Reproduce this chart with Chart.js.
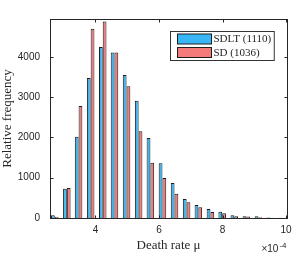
<!DOCTYPE html>
<html>
<head>
<meta charset="utf-8">
<script src="https://cdn.jsdelivr.net/npm/chart.js@4.4.1/dist/chart.umd.min.js"></script>
<style>
  html, body { margin: 0; padding: 0; background: #fff; }
  canvas { display: block; }
</style>
</head>
<body>
<canvas id="chart" width="299" height="257"></canvas>
<script>
// Histogram bins (death rate, x 1e-4) and counts
const binCenters = [2.72, 3.10, 3.47, 3.85, 4.23, 4.60, 4.98, 5.36, 5.73, 6.11,
                    6.49, 6.87, 7.24, 7.62, 7.99, 8.37, 8.75, 9.13, 9.50, 9.88];
const sdltCounts = [67, 728, 2018, 3474, 4243, 4110, 3548, 2911, 1985, 1357,
                    868, 471, 323, 223, 157, 67, 42, 42, 10, 4];
const sdCounts   = [32, 745, 2779, 4697, 4880, 4110, 3268, 2151, 1372, 993,
                    603, 389, 265, 150, 116, 42, 35, 20, 8, 2];
const seriesLabels = ['SDLT (1110)', 'SD (1036)'];
const xTicks = [4, 6, 8, 10];
const yTicks = [0, 1000, 2000, 3000, 4000];

const ink = '#262626';
const blue = 'rgb(56,182,245)';
const red = 'rgb(245,122,122)';
const edge = '#1e1e1e';

// matlab style box, inward ticks, legend and the x10^-4 exponent
const decorPlugin = {
  id: 'decor',
  afterDraw(chart) {
    const ctx = chart.ctx;
    const a = chart.chartArea;
    const xs = chart.scales.x, ys = chart.scales.y;
    const L = Math.round(a.left) + 0.5, R = Math.round(a.right) + 0.5;
    const T = Math.round(a.top) + 0.5, B = Math.round(a.bottom) + 0.5;
    ctx.save();
    ctx.strokeStyle = ink;
    ctx.lineWidth = 1;
    ctx.strokeRect(L, T, R - L, B - T);
    ctx.beginPath();
    xTicks.forEach(v => {
      const px = Math.round(xs.getPixelForValue(v)) + 0.5;
      ctx.moveTo(px, B); ctx.lineTo(px, B - 3);
      ctx.moveTo(px, T); ctx.lineTo(px, T + 3);
    });
    yTicks.forEach(v => {
      const py = Math.round(ys.getPixelForValue(v)) + 0.5;
      ctx.moveTo(L, py); ctx.lineTo(L + 3, py);
      ctx.moveTo(R, py); ctx.lineTo(R - 3, py);
    });
    ctx.stroke();

    // legend
    ctx.font = '11px "Liberation Serif"';
    const textW = Math.max(...chart.data.datasets.map(d => ctx.measureText(d.label).width));
    const boxW = 7 + 34 + 2 + textW + 3;
    const boxH = 29;
    const bx = Math.round(R - 14 - boxW) + 0.5;
    const by = T + 12;
    ctx.fillStyle = '#fff';
    ctx.fillRect(bx, by, boxW, boxH);
    ctx.strokeStyle = '#333';
    ctx.strokeRect(bx, by, boxW, boxH);
    chart.data.datasets.forEach((d, i) => {
      const sy = by + 2.5 + i * 13.5;
      ctx.fillStyle = d.backgroundColor;
      ctx.fillRect(bx + 7, sy, 34, 10);
      ctx.strokeStyle = edge;
      ctx.strokeRect(bx + 7, sy, 34, 10);
      ctx.fillStyle = ink;
      ctx.textBaseline = 'middle';
      ctx.textAlign = 'left';
      ctx.fillText(d.label, bx + 7 + 34 + 2, sy + 5.5);
    });

    // exponent
    ctx.fillStyle = ink;
    ctx.textAlign = 'right';
    ctx.textBaseline = 'middle';
    ctx.font = '8px "Liberation Sans"';
    const expW = ctx.measureText('-4').width;
    ctx.fillText('-4', R - 1, 245.5);
    ctx.font = '10px "Liberation Sans"';
    ctx.fillText('\u00d710', R - 1 - expW - 1, 249.5);
    ctx.restore();
  }
};

new Chart(document.getElementById('chart'), {
  type: 'bar',
  data: {
    datasets: [
      {
        label: seriesLabels[0],
        data: binCenters.map((x, i) => ({ x, y: sdltCounts[i] })),
        backgroundColor: blue,
        borderColor: edge,
        borderWidth: 1
      },
      {
        label: seriesLabels[1],
        data: binCenters.map((x, i) => ({ x, y: sdCounts[i] })),
        backgroundColor: red,
        borderColor: edge,
        borderWidth: 1
      }
    ]
  },
  options: {
    responsive: false,
    animation: false,
    devicePixelRatio: 1,
    layout: { padding: { top: 19, right: 12, left: 0, bottom: 0 } },
    datasets: { bar: { categoryPercentage: 0.64, barPercentage: 1 } },
    plugins: { legend: { display: false }, tooltip: { enabled: false } },
    scales: {
      x: {
        type: 'linear',
        min: 2.57,
        max: 10.03,
        offset: false,
        grid: { display: false, drawTicks: false },
        border: { display: false },
        afterBuildTicks: s => { s.ticks = xTicks.map(v => ({ value: v })); },
        afterFit: s => { s.height = 39; },
        ticks: {
          padding: 6, color: ink, autoSkip: false, maxRotation: 0,
          font: { family: 'Liberation Sans', size: 10 },
          callback: v => String(v)
        },
        title: {
          display: true, text: 'Death rate μ', color: ink,
          font: { family: 'Liberation Serif', size: 13 },
          padding: { top: 0, bottom: 4 }
        }
      },
      y: {
        min: 0,
        max: 4940,
        grid: { display: false, drawTicks: false },
        border: { display: false },
        afterBuildTicks: s => { s.ticks = yTicks.map(v => ({ value: v })); },
        afterFit: s => { s.width = 50; },
        ticks: {
          padding: 10, color: ink,
          font: { family: 'Liberation Sans', size: 10 },
          callback: v => String(v)
        },
        title: {
          display: true, text: 'Relative frequency', color: ink,
          font: { family: 'Liberation Serif', size: 13 },
          padding: { top: 0, bottom: 0 }
        }
      }
    }
  },
  plugins: [decorPlugin]
});
</script>
</body>
</html>
